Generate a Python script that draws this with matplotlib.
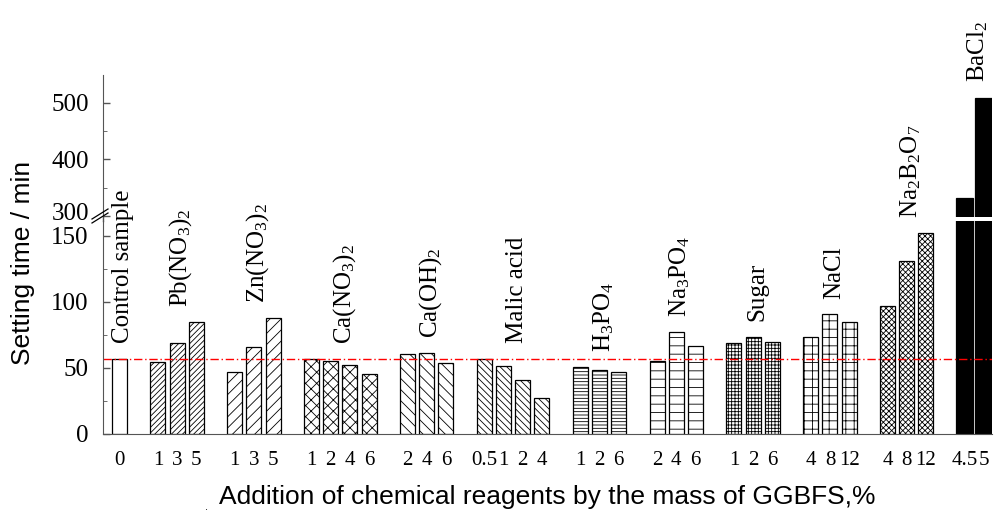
import matplotlib
matplotlib.use("Agg")
import matplotlib.pyplot as plt
import matplotlib.transforms as mtransforms
from matplotlib.lines import Line2D
from matplotlib.ticker import MultipleLocator

plt.rcParams['font.family'] = ['Liberation Serif', 'DejaVu Serif']
plt.rcParams['mathtext.fontset'] = 'custom'
plt.rcParams['mathtext.rm'] = 'Liberation Serif'
plt.rcParams['mathtext.it'] = 'Liberation Serif:italic'
plt.rcParams['hatch.linewidth'] = 0.6

# reagents, dosages (% of GGBFS) and setting times (min)
groups = ['Control sample', 'Pb(NO$_3$)$_2$', 'Zn(NO$_3$)$_2$', 'Ca(NO$_3$)$_2$',
          'Ca(OH)$_2$', 'Malic acid', 'H$_3$PO$_4$', 'Na$_3$PO$_4$', 'Sugar',
          'NaCl', 'Na$_2$B$_2$O$_7$', 'BaCl$_2$']
dosages = [['0'], ['1', '3', '5'], ['1', '3', '5'], ['1', '2', '4', '6'],
           ['2', '4', '6'], ['0.5', '1', '2', '4'], ['1', '2', '6'], ['2', '4', '6'],
           ['1', '2', '6'], ['4', '8', '12'], ['4', '8', '12'], ['4.5', '5']]
times = [[57], [54.5, 69, 84.5], [46.5, 65.5, 87.5], [56.5, 55.5, 52.5, 45.5],
         [60.5, 61, 53.5], [57, 51.5, 40.5, 27.5], [50.5, 48.5, 46.5],
         [55.5, 77, 66.5], [68.5, 73.5, 69.5], [73.5, 90.5, 84.5],
         [96.5, 131, 152], [332, 509]]
hatches = ['', '//////', '///', 'xxx', '\\\\\\', '\\\\\\\\\\', '-----', '--',
           '+++++', '++', 'xxxxxx', '']
colors = ['white'] * 11 + ['black']

W, H = 1003, 512
fig = plt.figure(figsize=(W / 100, H / 100), dpi=100)
ax = fig.add_axes([102.7 / W, (H - 434) / H, (992 - 102.7) / W, (434 - 221) / H])
axt = fig.add_axes([102.7 / W, (H - 217) / H, (992 - 102.7) / W, (217 - 75) / H])
axt.patch.set_visible(False)

spine_c = '#555555'
tick_pos, tick_lab = [], []
slot = 0
for i, (name, labs, vals) in enumerate(zip(groups, dosages, times)):
    xs = [slot + k for k in range(len(vals))]
    wid = 0.88 if i == len(groups) - 1 else 0.78
    for a in (ax, axt):
        a.bar(xs, vals, width=wid, color=colors[i], edgecolor='black',
              hatch=hatches[i], linewidth=0.9)
    tick_pos += xs
    tick_lab += labs
    xc = (xs[0] + xs[-1]) / 2 + 0.2
    target = axt if max(vals) > 200 else ax
    target.annotate(name, (xc, max(vals)), xytext=(0, 11), textcoords='offset points',
                    rotation=90, ha='center', va='bottom', fontsize=18,
                    annotation_clip=False, zorder=5)
    slot = xs[-1] + 2

xlim = (-0.875, 45.44)
for a in (ax, axt):
    a.set_xlim(*xlim)
    a.spines['right'].set_visible(False)
    a.spines['top'].set_visible(False)
    a.spines['left'].set_color(spine_c)
    a.spines['bottom'].set_color(spine_c)
    a.tick_params(axis='y', direction='in', length=5, width=1, color=spine_c,
                  labelsize=18, pad=10)
    a.tick_params(axis='y', which='minor', direction='in', length=3, color=spine_c)

ax.set_ylim(0, 161)
ax.yaxis.set_major_locator(MultipleLocator(50))
ax.yaxis.set_minor_locator(MultipleLocator(25))
ax.set_xticks(tick_pos)
ax.set_xticklabels(tick_lab, fontsize=15)
ax.tick_params(axis='x', length=0, pad=12)
ax.axhline(times[0][0], color='#ff0000', lw=1.0, ls=(0, (6, 2, 1, 2)))

axt.set_ylim(298, 549)
axt.set_yticks([300, 400, 500])
axt.yaxis.set_minor_locator(MultipleLocator(50))
axt.spines['bottom'].set_visible(False)
axt.set_xticks([])

# nudge the "300" label up a little so it clears "150"
lab300 = axt.get_yticklabels()[0]
lab300.set_transform(lab300.get_transform() +
                     mtransforms.ScaledTranslation(0, 4 / 100, fig.dpi_scale_trans))

# join the spine across the gap and draw the break marks
tf = fig.transFigure
fig.add_artist(Line2D([102.7 / W, 102.7 / W], [(H - 221) / H, (H - 217) / H],
                      color=spine_c, lw=1, transform=tf))
for dy in (0, -4):
    fig.add_artist(Line2D([92 / W, 108 / W], [(H - 223 - dy) / H, (H - 213 - dy) / H],
                          color='black', lw=0.9, transform=tf))

fig.text(23 / W, 1 - 263 / H, 'Setting time / min', rotation=90, ha='center',
         va='center', fontsize=19, family='Liberation Sans')
fig.text(547 / W, 1 - 497 / H, 'Addition of chemical reagents by the mass of GGBFS,%',
         ha='center', va='center', fontsize=19, family='Liberation Sans')
fig.text(207 / W, 1 - 507 / H, '.', ha='center', va='center', fontsize=8,
         family='Liberation Sans')

fig.savefig('out.png', dpi=100)
